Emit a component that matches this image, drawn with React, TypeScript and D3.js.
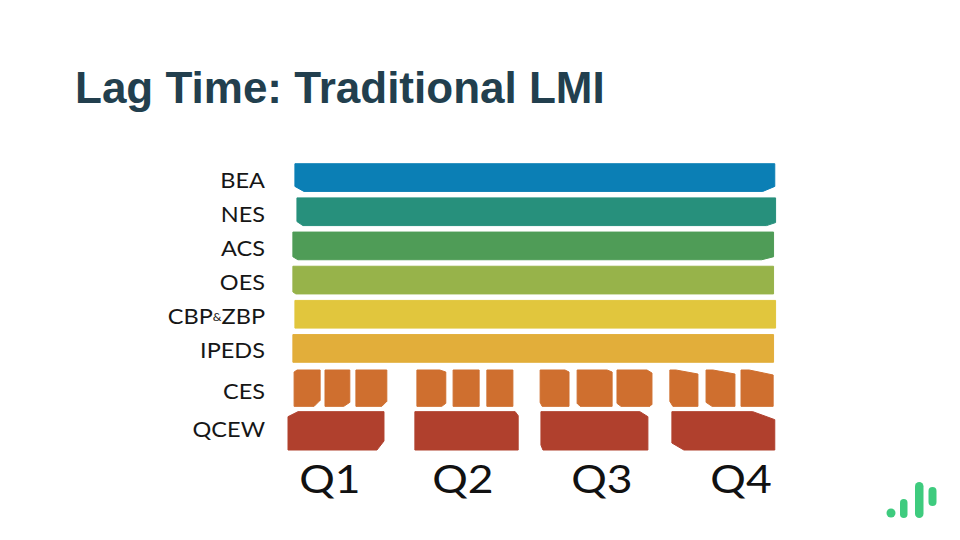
import React from "react";
import * as d3 from "d3";

// ---- data (months from start of year) ----
const ANNUAL_SOURCES = ["BEA", "NES", "ACS", "OES", "CBP&ZBP", "IPEDS"];
const ANNUAL_START = [0.17, 0.22, 0.12, 0.12, 0.17, 0.12];
const ANNUAL_END = [11.97, 11.99, 11.94, 11.94, 11.99, 11.94];

const PERIODIC_SOURCES = ["CES", "QCEW"];
const CES_START = [0.15, 0.91, 1.67, 3.17, 4.06, 4.89, 6.2, 7.11, 8.09, 9.39, 10.28, 11.14];
const CES_END = [0.79, 1.52, 2.43, 3.88, 4.7, 5.53, 6.91, 7.97, 8.95, 10.08, 10.99, 11.93];
const QCEW_START = [0, 3.12, 6.22, 9.44];
const QCEW_END = [2.36, 5.66, 8.85, 11.97];

const QUARTERS = ["Q1", "Q2", "Q3", "Q4"];
const QUARTER_AT = [1.03, 4.3, 7.72, 11.14];

const TITLE = "Lag Time: Traditional LMI";

// ---- styles ----
const COLORS: Record<string, string> = {
  BEA: "#0b7fb5",
  NES: "#27907c",
  ACS: "#4f9c57",
  OES: "#97b34a",
  "CBP&ZBP": "#e1c63d",
  IPEDS: "#e2ae3a",
  CES: "#cf6f2f",
  QCEW: "#b0402d",
};
type Cut = [number, number];
type Cuts = { tl?: Cut; tr?: Cut; br?: Cut; bl?: Cut };
const ANNUAL_CUTS: Cuts[] = [
  { bl: [9, 5], br: [12, 5] },
  { bl: [6, 4], br: [9, 3] },
  { bl: [5, 3], br: [12, 3] },
  { bl: [3, 2] },
  {},
  {},
];
const CES_CUTS: Cuts[] = [
  { tl: [3, 2], br: [6, 6] },
  { br: [6, 4] },
  { br: [5, 5] },
  { tr: [6, 2], br: [4, 3] },
  {},
  {},
  { tr: [4, 2], bl: [2, 4] },
  { tr: [5, 2], bl: [3, 3] },
  { tr: [5, 3], bl: [4, 3], br: [2, 2] },
  { tr: [22, 4], bl: [3, 5] },
  { tr: [22, 4], bl: [6, 4] },
  { tr: [24, 5] },
];
const QCEW_CUTS: Cuts[] = [
  { tl: [10, 5], br: [7, 9] },
  { tr: [3, 4] },
  { tr: [8, 5], bl: [2, 5] },
  { tr: [22, 8], bl: [12, 7] },
];

function shape(x0: number, y0: number, x1: number, y1: number, c: Cuts) {
  const tl = c.tl || [0, 0], tr = c.tr || [0, 0], br = c.br || [0, 0], bl = c.bl || [0, 0];
  const p = d3.path();
  p.moveTo(x0 + tl[0], y0);
  p.lineTo(x1 - tr[0], y0);
  p.lineTo(x1, y0 + tr[1]);
  p.lineTo(x1, y1 - br[1]);
  p.lineTo(x1 - br[0], y1);
  p.lineTo(x0 + bl[0], y1);
  p.lineTo(x0, y1 - bl[1]);
  p.lineTo(x0, y0 + tl[1]);
  p.closePath();
  return p.toString();
}

export default function App() {
  const W = 960, H = 540;
  const x = d3.scaleLinear().domain([0, 12]).range([288, 776]);
  const yA = d3.scaleBand<string>().domain(ANNUAL_SOURCES).range([161, 365]).paddingInner(0.19).paddingOuter(0.08);
  const yP = d3.scaleBand<string>().domain(PERIODIC_SOURCES).range([370, 450]).paddingInner(0.08).paddingOuter(0);

  const labelFont = "Lato, 'Noto Sans', sans-serif";
  const labelX = 265;

  const renderLabel = (s: string, cy: number) => {
    const parts = s.split("&");
    return (
      <text key={"l" + s} transform={`translate(${labelX},${cy}) scale(1.12,1)`} textAnchor="end"
        dominantBaseline="central" fontFamily={labelFont} fontSize={21} fill="#161616">
        {parts.length > 1 ? (
          <>
            {parts[0]}
            <tspan fontSize={11}>&amp;</tspan>
            {parts[1]}
          </>
        ) : s}
      </text>
    );
  };

  return (
    <svg width={W} height={H} style={{ position: "absolute", left: 0, top: 0, background: "#fff" }}>
      <text x={75} y={103} fontFamily="'Liberation Sans', Arial, sans-serif" fontWeight="bold"
        fontSize={44} fill="#223f4e">{TITLE}</text>

      {ANNUAL_SOURCES.map((s, i) => {
        const y0 = yA(s)!, y1 = y0 + yA.bandwidth();
        return (
          <g key={s}>
            <path d={shape(x(ANNUAL_START[i]), y0, x(ANNUAL_END[i]), y1, ANNUAL_CUTS[i])}
              fill={COLORS[s]} stroke={COLORS[s]} strokeWidth={1} strokeLinejoin="round" />
            {renderLabel(s, y0 + yA.bandwidth() / 2 + 2)}
          </g>
        );
      })}

      {CES_START.map((st, i) => {
        const y0 = yP("CES")!, y1 = y0 + yP.bandwidth() - 2;
        return (
          <path key={"ces" + i} d={shape(x(st), y0, x(CES_END[i]), y1, CES_CUTS[i])}
            fill={COLORS.CES} stroke={COLORS.CES} strokeWidth={1} strokeLinejoin="round" />
        );
      })}
      {renderLabel("CES", yP("CES")! + yP.bandwidth() / 2 + 2)}

      {QCEW_START.map((st, i) => {
        const y0 = yP("QCEW")!, y1 = y0 + yP.bandwidth();
        return (
          <path key={"qcew" + i} d={shape(x(st), y0, x(QCEW_END[i]), y1, QCEW_CUTS[i])}
            fill={COLORS.QCEW} stroke={COLORS.QCEW} strokeWidth={1} strokeLinejoin="round" />
        );
      })}
      {renderLabel("QCEW", yP("QCEW")! + yP.bandwidth() / 2 - 2)}

      {QUARTERS.map((q, i) => (
        <text key={q} transform={`translate(${x(QUARTER_AT[i])},493) scale(1.17,1)`} textAnchor="middle"
          fontFamily={labelFont} fontSize={38} fill="#111">{q}</text>
      ))}

      <g fill="#3ecb7e">
        <circle cx={891} cy={513} r={4.5} />
        <rect x={900} y={499} width={7.5} height={19} rx={3.75} />
        <rect x={915} y={482} width={8.5} height={36} rx={4.25} />
        <rect x={928.5} y={487} width={8} height={19} rx={4} />
      </g>
    </svg>
  );
}
